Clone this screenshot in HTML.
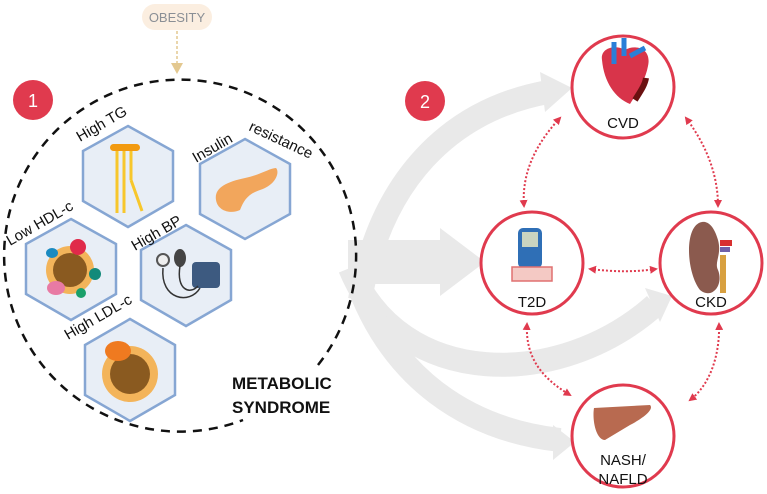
<!DOCTYPE html>
<html><head><style>
body{margin:0;background:#fff;width:767px;height:494px;overflow:hidden}
svg{display:block}
text{font-family:"Liberation Sans",sans-serif}
</style></head><body>
<svg width="767" height="494" viewBox="0 0 767 494" xmlns="http://www.w3.org/2000/svg">
<defs>
<marker id="ra" markerWidth="8" markerHeight="8" refX="6" refY="4" orient="auto-start-reverse" markerUnits="userSpaceOnUse"><path d="M0,0 L8,4 L0,8 z" fill="#e03a4e"/></marker>
</defs>
<g fill="none" stroke="#e9e9e9" stroke-width="24">
<path d="M360,300 C380,180 450,110 548,92"/>
<path d="M350,268 C400,390 560,390 655,305"/>
<path d="M355,275 C390,380 470,430 560,440"/>
</g>
<g fill="#e9e9e9">
<polygon points="540,72 572,88 545,112"/>
<polygon points="348,240 440,240 440,228 485,262 440,296 440,284 348,284"/>
<polygon points="645,288 672,296 660,322"/>
<polygon points="553,425 575,442 553,460"/>
</g>
<path d="M318,365 A176,176 0 1 0 243,420" fill="none" stroke="#111" stroke-width="2.5" stroke-dasharray="9,7"/>
<rect x="142" y="4" width="70" height="26" rx="13" fill="#fbeee0"/>
<text x="177" y="22" text-anchor="middle" font-size="13" fill="#8a8f95">OBESITY</text>
<line x1="177" y1="31" x2="177" y2="64" stroke="#e3c890" stroke-width="1.5" stroke-dasharray="3,2"/>
<polygon points="171,63 183,63 177,74" fill="#e3c890"/>
<circle cx="33" cy="100" r="20" fill="#e03a4e"/><text x="33" y="107" text-anchor="middle" font-size="18" fill="#fff">1</text>
<circle cx="425" cy="101" r="20" fill="#e03a4e"/><text x="425" y="108" text-anchor="middle" font-size="18" fill="#fff">2</text>
<g fill="#e8eef6" stroke="#86a6d3" stroke-width="2.5">
<polygon points="128,126 173,151 173,201 128,227 83,201 83,151"/>
<polygon points="245,139 290,164 290,214 245,239 200,214 200,164"/>
<polygon points="71,219 116,244 116,294 71,320 26,294 26,244"/>
<polygon points="186,225 231,250 231,300 186,326 141,300 141,250"/>
<polygon points="130,319 175,345 175,395 130,421 85,395 85,345"/>
</g>
<rect x="110" y="144" width="30" height="7" rx="3.5" fill="#f29a10"/>
<g stroke="#f7c72c" stroke-width="3"><line x1="117" y1="151" x2="117" y2="213"/><line x1="124" y1="151" x2="124" y2="213"/><line x1="131" y1="151" x2="131" y2="180"/><line x1="131" y1="180" x2="142" y2="211"/></g>
<path d="M216,200 C214,188 226,182 245,178 C260,175 270,168 276,168 C280,172 276,185 260,190 C248,194 244,200 240,210 C232,214 218,212 216,200z" fill="#f2a65c"/>
<circle cx="70" cy="270" r="24" fill="#f3b45a"/><circle cx="70" cy="270" r="17" fill="#8a5a20"/>
<ellipse cx="78" cy="247" rx="8" ry="8" fill="#e02a4a"/><ellipse cx="52" cy="253" rx="6" ry="5" fill="#1a8ac0"/><ellipse cx="95" cy="274" rx="6" ry="6" fill="#138a7a"/><ellipse cx="56" cy="288" rx="9" ry="7" fill="#e87aa4"/><ellipse cx="81" cy="293" rx="5" ry="5" fill="#1aa06a"/>
<circle cx="163" cy="260" r="6" fill="#eee" stroke="#555" stroke-width="2"/>
<ellipse cx="180" cy="258" rx="6" ry="9" fill="#444"/>
<rect x="192" y="262" width="28" height="26" rx="4" fill="#3d5a80"/>
<path d="M163,268 C160,300 190,305 200,288 M180,266 C176,290 190,295 198,286" fill="none" stroke="#333" stroke-width="1.5"/>
<circle cx="130" cy="374" r="28" fill="#f3b45a"/><circle cx="130" cy="374" r="20" fill="#8a5a20"/>
<ellipse cx="118" cy="351" rx="13" ry="10" fill="#ef7a20"/>
<g font-size="15" fill="#111">
<text transform="translate(80,142) rotate(-30)">High TG</text>
<text transform="translate(196,163) rotate(-30)">Insulin</text>
<text transform="translate(248,130) rotate(25)">resistance</text>
<text transform="translate(10,246) rotate(-30)">Low HDL-c</text>
<text transform="translate(135,251) rotate(-30)">High BP</text>
<text transform="translate(68,340) rotate(-30)">High LDL-c</text>
</g>
<g font-size="17" font-weight="bold" fill="#111"><text x="232" y="389">METABOLIC</text><text x="232" y="413">SYNDROME</text></g>
<g fill="#fff" stroke="#e03a4e" stroke-width="3">
<circle cx="623" cy="87" r="51"/><circle cx="532" cy="263" r="51"/><circle cx="711" cy="263" r="51"/><circle cx="623" cy="436" r="51"/>
</g>
<path d="M602,60 C600,48 615,44 625,50 C635,44 652,48 648,66 C645,82 636,94 630,104 C615,98 604,82 602,60z" fill="#d8344a"/>
<path d="M635,100 C640,92 645,85 646,78" stroke="#6a1010" stroke-width="6" fill="none"/>
<path d="M614,42 L614,64 M624,38 L624,56" stroke="#2a7fd8" stroke-width="5"/>
<path d="M630,56 L645,48" stroke="#2a7fd8" stroke-width="5"/>
<rect x="518" y="228" width="24" height="40" rx="5" fill="#2f6fb6"/><rect x="522" y="232" width="16" height="15" fill="#c9d4c0"/>
<rect x="512" y="267" width="40" height="14" fill="#f4c9c4" stroke="#e07070" stroke-width="1.5"/>
<path d="M702,222 C684,225 686,272 700,290 C712,300 724,285 718,270 C714,262 722,255 718,240 C714,226 708,221 702,222z" fill="#8b5a4e"/>
<rect x="720" y="240" width="12" height="6" fill="#d83030"/><rect x="720" y="247" width="10" height="5" fill="#7060a8"/>
<rect x="720" y="255" width="6" height="38" fill="#d8a040"/>
<path d="M594,408 L650,405 C655,410 640,420 630,425 L605,440 C596,440 592,420 594,408z" fill="#b86a50"/>
<g font-size="15" fill="#111" text-anchor="middle">
<text x="623" y="128">CVD</text><text x="532" y="307">T2D</text><text x="711" y="307">CKD</text>
<text x="623" y="465">NASH/</text><text x="623" y="484">NAFLD</text>
</g>
<g fill="none" stroke="#e03a4e" stroke-width="2" stroke-dasharray="2,2" marker-start="url(#ra)" marker-end="url(#ra)">
<path d="M560,118 C530,150 522,180 524,206"/>
<path d="M686,118 C710,150 718,180 718,206"/>
<path d="M590,269 C615,272 635,272 656,269"/>
<path d="M527,324 C525,360 545,380 570,395"/>
<path d="M719,324 C720,355 710,385 690,400"/>
</g>
</svg>
</body></html>
